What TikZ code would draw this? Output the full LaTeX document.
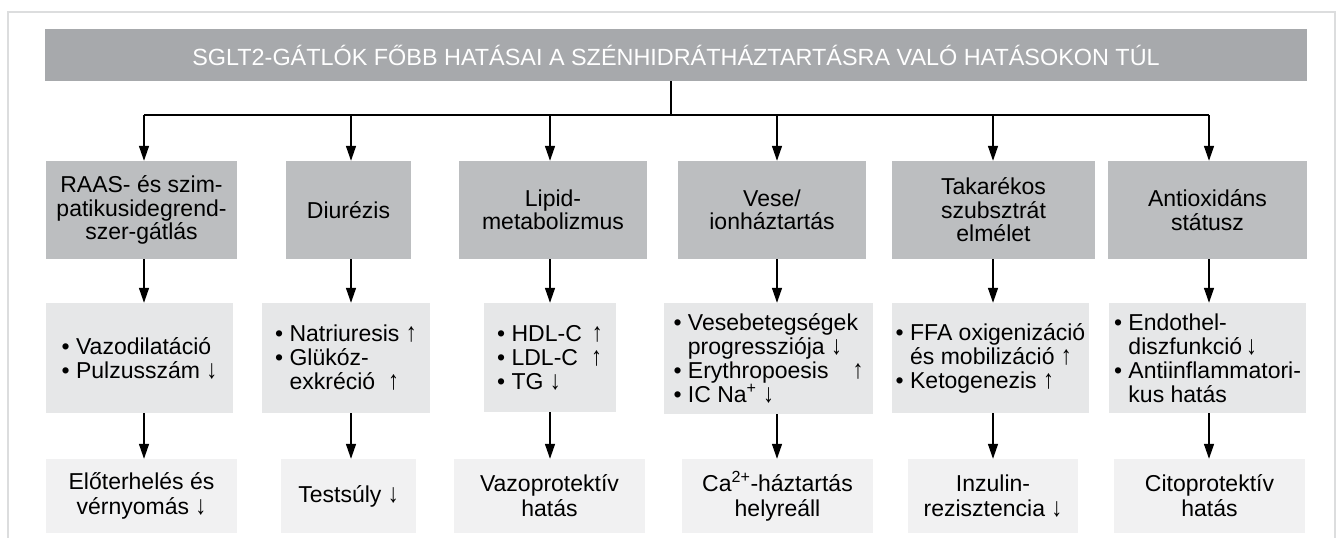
\documentclass[tikz,border=0pt]{standalone}
\usepackage{fontspec}
\setmainfont{Liberation Sans}
\usetikzlibrary{positioning,arrows.meta}
\definecolor{titlegray}{HTML}{A7A9AC}
\definecolor{headgray}{HTML}{BCBEC0}
\definecolor{midgray}{HTML}{E6E7E8}
\definecolor{lowgray}{HTML}{F1F1F2}
\definecolor{framegray}{HTML}{DCDDDE}
\newcommand{\hang}{\hphantom{•\ }}
\newcommand{\up}{\scalebox{0.95}[1.15]{↑}}
\newcommand{\dn}{\scalebox{0.95}[1.15]{↓}}

\begin{document}
\begin{tikzpicture}[
  x=1pt, y=-1pt,
  every node/.style={font=\fontsize{23}{23.5}\selectfont, inner sep=0pt},
  titlebar/.style={fill=titlegray, text=white, minimum width=1262pt, minimum height=52pt, font=\fontsize{23.4}{26}\selectfont},
  head/.style={fill=headgray, align=center, minimum height=98pt},
  mid/.style={fill=midgray, align=left, minimum height=110pt, font=\fontsize{23}{24}\selectfont},
  low/.style={fill=lowgray, align=center, minimum height=74pt, font=\fontsize{23}{25}\selectfont},
  arrow/.style={-{Triangle[length=15pt,width=10pt]}, line width=1.4pt},
  bus/.style={line width=1.4pt}
]
\useasboundingbox (0,0) rectangle (1341,538);
\draw[framegray, line width=1.5pt] (8,545) -- (8,12) -- (1335,12) -- (1335,545);

\node[titlebar] (title) at (676,55) {SGLT2-GÁTLÓK FŐBB HATÁSAI A SZÉNHIDRÁTHÁZTARTÁSRA VALÓ HATÁSOKON TÚL};

% first row
\node[head, minimum width=191pt] (raas) at (141.5,210) {RAAS- és szim-\\patikusidegrend-\\szer-gátlás};
\node[head, minimum width=125pt] (diur) at (348.5,210) {Diurézis};
\node[head, minimum width=188pt] (lipid) at (553,210) {Lipid-\\metabolizmus};
\node[head, minimum width=188pt] (vese) at (772,210) {Vese/\\ionháztartás};
\node[head, minimum width=203pt] (tak) at (993.5,210) {Takarékos\\szubsztrát\\elmélet};
\node[head, minimum width=199pt] (antiox) at (1207.5,210) {Antioxidáns\\státusz};

% second row
\node[mid, minimum width=187pt] (raasfx) at (139.5,358) {• Vazodilatáció\\• Pulzusszám \dn};
\node[mid, minimum width=168pt] (diurfx) at (346,358) {• Natriuresis \up\\• Glükóz-\\\hang exkréció\ \ \up};
\node[mid, minimum width=132pt, minimum height=109pt] (lipidfx) at (550,357.5) {• HDL-C\hspace{10pt}\up\\• LDL-C\hspace{13pt}\up\\• TG \dn};
\node[mid, minimum width=209pt, minimum height=111pt] (vesefx) at (768.5,358.5) {• Vesebetegségek\\\hang progressziója \dn\\• Erythropoesis\hspace{24pt}\up\\• IC Na\textsuperscript{+} \dn};
\node[mid, minimum width=197pt] (takfx) at (990.5,358) {• FFA oxigenizáció\\\hang és mobilizáció \up\\• Ketogenezis \up};
\node[mid, minimum width=197pt] (antioxfx) at (1207.5,358) {• Endothel-\\\hang diszfunkció\,\dn\\• Antiinflammatori-\\\hang kus hatás};

% third row
\node[low, minimum width=191pt] (raasout) at (141.5,496) {Előterhelés és\\vérnyomás \dn};
\node[low, minimum width=135pt] (diurout) at (348.5,496) {Testsúly \dn};
\node[low, minimum width=191pt] (lipidout) at (549.5,496) {Vazoprotektív\\hatás};
\node[low, minimum width=191pt] (veseout) at (777.5,496) {Ca\textsuperscript{2+}-háztartás\\helyreáll};
\node[low, minimum width=170pt] (takout) at (993,496) {Inzulin-\\rezisztencia \dn};
\node[low, minimum width=191pt] (antioxout) at (1209.5,496) {Citoprotektív\\hatás};

% bus
\coordinate (busa) at (144,115);
\coordinate (busb) at (351,115);
\coordinate (busc) at (550,115);
\coordinate (busd) at (777,115);
\coordinate (buse) at (993,115);
\coordinate (busf) at (1209,115);
\draw[bus] (title.south -| 671,0) -- (671,115);
\draw[bus] (busa) -- (busf);

\draw[arrow] (busa) -- (busa |- raas.north);
\draw[arrow] (busb) -- (busb |- diur.north);
\draw[arrow] (busc) -- (busc |- lipid.north);
\draw[arrow] (busd) -- (busd |- vese.north);
\draw[arrow] (buse) -- (buse |- tak.north);
\draw[arrow] (busf) -- (busf |- antiox.north);

\draw[arrow] (busa |- raas.south) -- (busa |- raasfx.north);
\draw[arrow] (busb |- diur.south) -- (busb |- diurfx.north);
\draw[arrow] (busc |- lipid.south) -- (busc |- lipidfx.north);
\draw[arrow] (busd |- vese.south) -- (busd |- vesefx.north);
\draw[arrow] (buse |- tak.south) -- (buse |- takfx.north);
\draw[arrow] (busf |- antiox.south) -- (busf |- antioxfx.north);

\draw[arrow] (busa |- raasfx.south) -- (busa |- raasout.north);
\draw[arrow] (busb |- diurfx.south) -- (busb |- diurout.north);
\draw[arrow] (busc |- lipidfx.south) -- (busc |- lipidout.north);
\draw[arrow] (busd |- vesefx.south) -- (busd |- veseout.north);
\draw[arrow] (buse |- takfx.south) -- (buse |- takout.north);
\draw[arrow] (busf |- antioxfx.south) -- (busf |- antioxout.north);
\end{tikzpicture}
\end{document}
